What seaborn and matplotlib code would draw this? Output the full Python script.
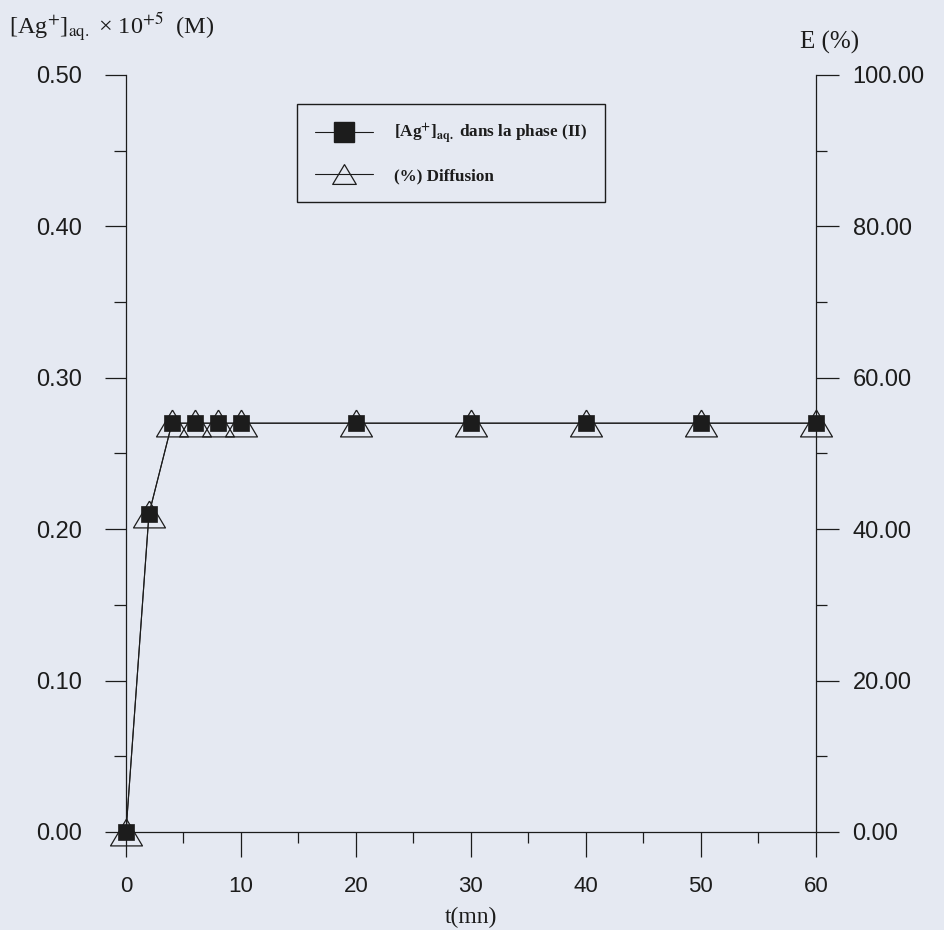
import matplotlib
matplotlib.use("Agg")
import matplotlib.pyplot as plt
import seaborn as sns
from matplotlib.lines import Line2D
from matplotlib.ticker import MultipleLocator, FormatStrFormatter

# Time of contact (min)
t_min = [0, 2, 4, 6, 8, 10, 20, 30, 40, 50, 60]
# Silver concentration in aqueous phase (II), x 10^+5 M
ag_conc = [0.00, 0.21, 0.27, 0.27, 0.27, 0.27, 0.27, 0.27, 0.27, 0.27, 0.27]
# Diffusion yield E (%)
diffusion_pct = [0.0, 42.0, 54.0, 54.0, 54.0, 54.0, 54.0, 54.0, 54.0, 54.0, 54.0]

legend_labels = [r"[Ag$^{\mathbf{+}}$]$_{\mathbf{aq.}}$ dans la phase (II)", "(%) Diffusion"]

sns.set_theme(style="ticks")
bg = "#e5e9f2"
ink = "#1c1c1c"
plt.rcParams.update({
    "font.family": ["Liberation Sans", "DejaVu Sans"],
    "mathtext.fontset": "stix",
    "axes.facecolor": bg,
    "figure.facecolor": bg,
    "axes.edgecolor": ink,
    "axes.linewidth": 0.9,
})

fig = plt.figure(figsize=(9.45, 9.3), dpi=100)
ax = fig.add_axes([0.1333, 0.1054, 0.730, 0.814])
ax2 = ax.twinx()

# flattened open triangle for the diffusion series
tri = [(0.0, 0.84), (-1.0, -0.84), (1.0, -0.84), (0.0, 0.84)]

sns.lineplot(x=t_min, y=diffusion_pct, ax=ax2, color=ink, lw=0.8,
             marker=tri, markersize=23, markerfacecolor="none",
             markeredgecolor=ink, markeredgewidth=0.9, clip_on=False)
sns.lineplot(x=t_min, y=ag_conc, ax=ax, color=ink, lw=0.8,
             marker="s", markersize=11, markerfacecolor=ink,
             markeredgecolor=ink, markeredgewidth=0.5, clip_on=False)

ax.set_zorder(ax2.get_zorder() + 1)
ax.patch.set_visible(False)

ax.set_xlim(0, 60)
ax.set_ylim(0, 0.5)
ax2.set_ylim(0, 100)

for a in (ax, ax2):
    a.set_xlabel("")
    a.set_ylabel("")
    a.spines["top"].set_visible(False)
ax.spines["right"].set_visible(False)
ax2.spines["left"].set_visible(False)
ax2.spines["bottom"].set_visible(False)

ax.xaxis.set_major_locator(MultipleLocator(10))
ax.xaxis.set_minor_locator(MultipleLocator(5))
ax.xaxis.set_major_formatter(FormatStrFormatter("%d"))
ax.yaxis.set_major_locator(MultipleLocator(0.1))
ax.yaxis.set_minor_locator(MultipleLocator(0.05))
ax.yaxis.set_major_formatter(FormatStrFormatter("%.2f"))
ax2.yaxis.set_major_locator(MultipleLocator(20))
ax2.yaxis.set_minor_locator(MultipleLocator(10))
ax2.yaxis.set_major_formatter(FormatStrFormatter("%.2f"))

ax.tick_params(axis="x", which="major", direction="out", length=18, width=0.9,
               color=ink, labelsize=16, pad=14, labelcolor=ink)
ax.tick_params(axis="x", which="minor", direction="out", length=8, width=0.9, color=ink)
ax.tick_params(axis="y", which="major", direction="out", length=15, width=0.9,
               color=ink, labelsize=17, pad=17, labelcolor=ink)
ax.tick_params(axis="y", which="minor", direction="out", length=8.5, width=0.9, color=ink)
ax2.tick_params(axis="y", which="major", direction="out", length=16.5, width=0.9,
                color=ink, labelsize=17, pad=10, labelcolor=ink)
ax2.tick_params(axis="y", which="minor", direction="out", length=8, width=0.9, color=ink)

serif = ["Liberation Serif", "DejaVu Serif"]
fig.text(9 / 945, 1 - 27 / 930, r"[Ag$^{+}$]$_{\mathrm{aq.}}$ × 10$^{+5}$  (M)",
         ha="left", va="center", fontsize=17.5, family=serif, color=ink)
fig.text(800 / 945, 1 - 42 / 930, "E (%)", ha="left", va="center",
         fontsize=18, family=serif, color=ink)
fig.text(0.1333 + 0.730 * 0.5, 1 - 917 / 930, "t(mn)", ha="center", va="center",
         fontsize=17, family=serif, color=ink)

handles = [
    Line2D([0], [0], color=ink, lw=0.8, marker="s", markersize=15,
           markerfacecolor=ink, markeredgecolor=ink),
    Line2D([0], [0], color=ink, lw=0.8, marker=tri, markersize=17,
           markerfacecolor="none", markeredgecolor=ink, markeredgewidth=0.9),
]
leg = ax.legend(handles, legend_labels, loc="upper left",
                bbox_to_anchor=(0.248, 0.962), borderaxespad=0,
                frameon=True, fancybox=False, edgecolor=ink, facecolor=bg,
                framealpha=1, handlelength=3.4, handletextpad=1.2,
                borderpad=1.05, labelspacing=1.3,
                prop={"family": serif, "size": 12.3, "weight": "bold"})
leg.get_frame().set_linewidth(1.0)
for txt in leg.get_texts():
    txt.set_color(ink)

fig.savefig("out.png", dpi=100, facecolor=bg)
